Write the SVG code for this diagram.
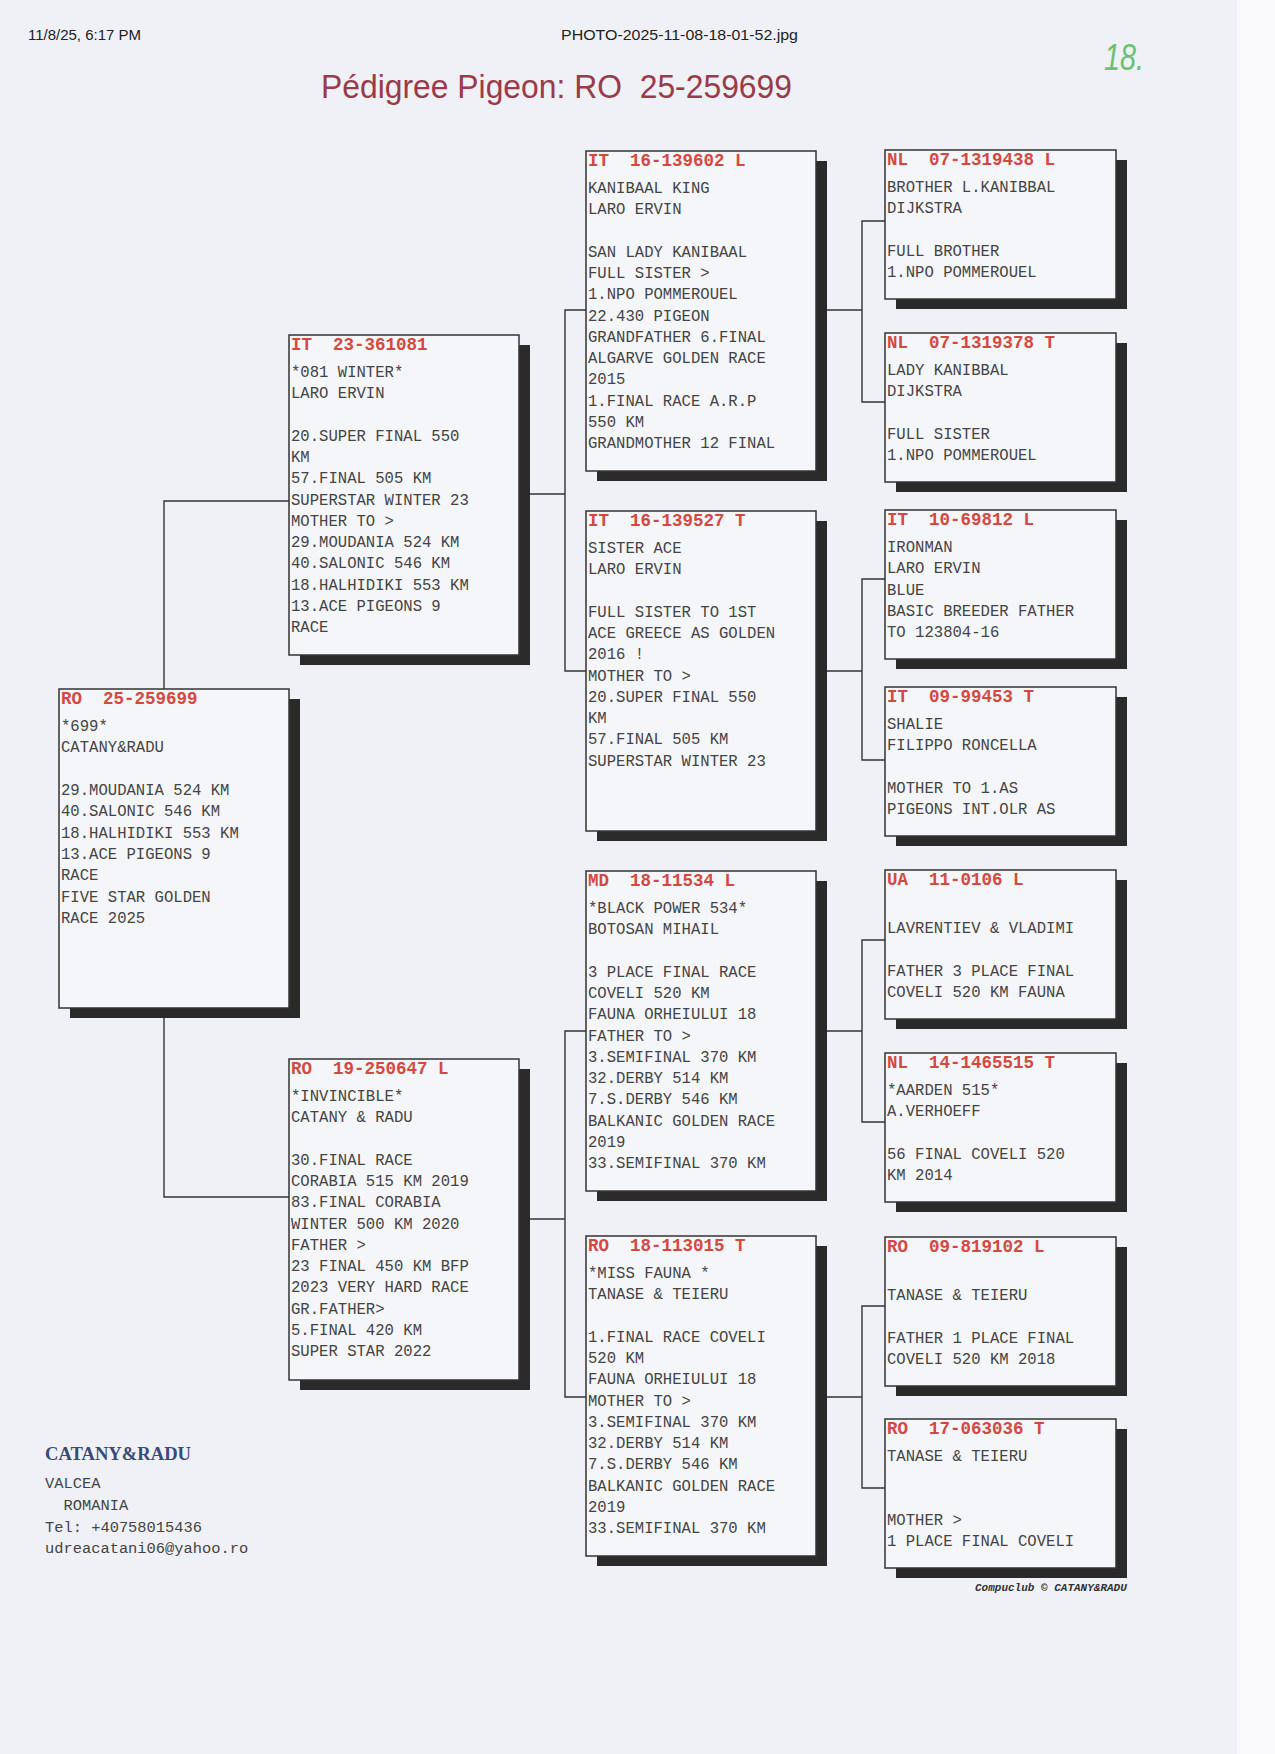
<svg xmlns="http://www.w3.org/2000/svg" width="1275" height="1754" viewBox="0 0 1275 1754" xml:space="preserve">
<style>
.box{fill:#f5f6fa;stroke:#333;stroke-width:1.5}
.shd{fill:#2a2a2a}
.hd{font-family:"Liberation Mono",monospace;font-size:17.5px;font-weight:bold;fill:#d4493f;white-space:pre}
.tx{font-family:"Liberation Mono",monospace;font-size:15.6px;fill:#444;white-space:pre}
.ln{stroke:#333;stroke-width:1.4;fill:none}
.top{font-family:"Liberation Sans",Arial,sans-serif;font-size:14px;fill:#222}
.ft{font-family:"Liberation Mono",monospace;font-size:15.4px;fill:#444;white-space:pre}
</style>
<rect x="0" y="0" width="1275" height="1754" fill="#eff1f7"/>
<rect x="1237" y="0" width="38" height="1754" fill="#f9f9fb"/>
<text class="top" x="28" y="40" textLength="113" lengthAdjust="spacingAndGlyphs">11/8/25, 6:17 PM</text>
<text class="top" x="561" y="40" textLength="237" lengthAdjust="spacingAndGlyphs">PHOTO-2025-11-08-18-01-52.jpg</text>
<text x="1104" y="70" font-family="Liberation Sans,sans-serif" font-size="36" font-style="italic" fill="#6cc070" textLength="40" lengthAdjust="spacingAndGlyphs">18.</text>
<text x="321" y="98" font-family="Liberation Sans,Arial,sans-serif" font-size="34" fill="#9b3a4a" textLength="471" lengthAdjust="spacingAndGlyphs" style="white-space:pre">Pédigree Pigeon: RO  25-259699</text>

<g id="connectors">
<path class="ln" d="M289,501 H164 V1197 H289"/>
<path class="ln" d="M519,494 H565 M586,310 H565 V671 H586"/>
<path class="ln" d="M519,1219 H565 M586,1031 H565 V1397 H586"/>
<path class="ln" d="M816,310 H862 M885,221 H862 V402 H885"/>
<path class="ln" d="M816,671 H862 M885,579 H862 V760 H885"/>
<path class="ln" d="M816,1031 H862 M885,940 H862 V1122 H885"/>
<path class="ln" d="M816,1397 H862 M885,1306 H862 V1488 H885"/>
</g>

<g id="subject">
<rect class="shd" x="70" y="699" width="230" height="319"/>
<rect class="box" x="59" y="689" width="230" height="319"/>
<text class="hd" x="61" y="704">RO  25-259699</text>
<text class="tx"><tspan x="61" y="731">*699*</tspan><tspan x="61" y="752">CATANY&amp;RADU</tspan><tspan x="61" y="795">29.MOUDANIA 524 KM</tspan><tspan x="61" y="816">40.SALONIC 546 KM</tspan><tspan x="61" y="838">18.HALHIDIKI 553 KM</tspan><tspan x="61" y="859">13.ACE PIGEONS 9</tspan><tspan x="61" y="880">RACE</tspan><tspan x="61" y="902">FIVE STAR GOLDEN</tspan><tspan x="61" y="923">RACE 2025</tspan></text>
</g>

<g id="sire">
<rect class="shd" x="300" y="345" width="230" height="320"/>
<rect class="box" x="289" y="335" width="230" height="320"/>
<text class="hd" x="291" y="350">IT  23-361081</text>
<text class="tx"><tspan x="291" y="377">*081 WINTER*</tspan><tspan x="291" y="398">LARO ERVIN</tspan><tspan x="291" y="441">20.SUPER FINAL 550</tspan><tspan x="291" y="462">KM</tspan><tspan x="291" y="483">57.FINAL 505 KM</tspan><tspan x="291" y="505">SUPERSTAR WINTER 23</tspan><tspan x="291" y="526">MOTHER TO &gt;</tspan><tspan x="291" y="547">29.MOUDANIA 524 KM</tspan><tspan x="291" y="568">40.SALONIC 546 KM</tspan><tspan x="291" y="590">18.HALHIDIKI 553 KM</tspan><tspan x="291" y="611">13.ACE PIGEONS 9</tspan><tspan x="291" y="632">RACE</tspan></text>
</g>

<g id="dam">
<rect class="shd" x="300" y="1069" width="230" height="321"/>
<rect class="box" x="289" y="1059" width="230" height="321"/>
<text class="hd" x="291" y="1074">RO  19-250647 L</text>
<text class="tx"><tspan x="291" y="1101">*INVINCIBLE*</tspan><tspan x="291" y="1122">CATANY &amp; RADU</tspan><tspan x="291" y="1165">30.FINAL RACE</tspan><tspan x="291" y="1186">CORABIA 515 KM 2019</tspan><tspan x="291" y="1207">83.FINAL CORABIA</tspan><tspan x="291" y="1229">WINTER 500 KM 2020</tspan><tspan x="291" y="1250">FATHER &gt;</tspan><tspan x="291" y="1271">23 FINAL 450 KM BFP</tspan><tspan x="291" y="1292">2023 VERY HARD RACE</tspan><tspan x="291" y="1314">GR.FATHER&gt;</tspan><tspan x="291" y="1335">5.FINAL 420 KM</tspan><tspan x="291" y="1356">SUPER STAR 2022</tspan></text>
</g>

<g id="ss">
<rect class="shd" x="597" y="161" width="230" height="320"/>
<rect class="box" x="586" y="151" width="230" height="320"/>
<text class="hd" x="588" y="166">IT  16-139602 L</text>
<text class="tx"><tspan x="588" y="193">KANIBAAL KING</tspan><tspan x="588" y="214">LARO ERVIN</tspan><tspan x="588" y="257">SAN LADY KANIBAAL</tspan><tspan x="588" y="278">FULL SISTER &gt;</tspan><tspan x="588" y="299">1.NPO POMMEROUEL</tspan><tspan x="588" y="321">22.430 PIGEON</tspan><tspan x="588" y="342">GRANDFATHER 6.FINAL</tspan><tspan x="588" y="363">ALGARVE GOLDEN RACE</tspan><tspan x="588" y="384">2015</tspan><tspan x="588" y="406">1.FINAL RACE A.R.P</tspan><tspan x="588" y="427">550 KM</tspan><tspan x="588" y="448">GRANDMOTHER 12 FINAL</tspan></text>
</g>

<g id="sd">
<rect class="shd" x="597" y="521" width="230" height="320"/>
<rect class="box" x="586" y="511" width="230" height="320"/>
<text class="hd" x="588" y="526">IT  16-139527 T</text>
<text class="tx"><tspan x="588" y="553">SISTER ACE</tspan><tspan x="588" y="574">LARO ERVIN</tspan><tspan x="588" y="617">FULL SISTER TO 1ST</tspan><tspan x="588" y="638">ACE GREECE AS GOLDEN</tspan><tspan x="588" y="659">2016 !</tspan><tspan x="588" y="681">MOTHER TO &gt;</tspan><tspan x="588" y="702">20.SUPER FINAL 550</tspan><tspan x="588" y="723">KM</tspan><tspan x="588" y="744">57.FINAL 505 KM</tspan><tspan x="588" y="766">SUPERSTAR WINTER 23</tspan></text>
</g>

<g id="ds">
<rect class="shd" x="597" y="881" width="230" height="320"/>
<rect class="box" x="586" y="871" width="230" height="320"/>
<text class="hd" x="588" y="886">MD  18-11534 L</text>
<text class="tx"><tspan x="588" y="913">*BLACK POWER 534*</tspan><tspan x="588" y="934">BOTOSAN MIHAIL</tspan><tspan x="588" y="977">3 PLACE FINAL RACE</tspan><tspan x="588" y="998">COVELI 520 KM</tspan><tspan x="588" y="1019">FAUNA ORHEIULUI 18</tspan><tspan x="588" y="1041">FATHER TO &gt;</tspan><tspan x="588" y="1062">3.SEMIFINAL 370 KM</tspan><tspan x="588" y="1083">32.DERBY 514 KM</tspan><tspan x="588" y="1104">7.S.DERBY 546 KM</tspan><tspan x="588" y="1126">BALKANIC GOLDEN RACE</tspan><tspan x="588" y="1147">2019</tspan><tspan x="588" y="1168">33.SEMIFINAL 370 KM</tspan></text>
</g>

<g id="dd">
<rect class="shd" x="597" y="1246" width="230" height="320"/>
<rect class="box" x="586" y="1236" width="230" height="320"/>
<text class="hd" x="588" y="1251">RO  18-113015 T</text>
<text class="tx"><tspan x="588" y="1278">*MISS FAUNA *</tspan><tspan x="588" y="1299">TANASE &amp; TEIERU</tspan><tspan x="588" y="1342">1.FINAL RACE COVELI</tspan><tspan x="588" y="1363">520 KM</tspan><tspan x="588" y="1384">FAUNA ORHEIULUI 18</tspan><tspan x="588" y="1406">MOTHER TO &gt;</tspan><tspan x="588" y="1427">3.SEMIFINAL 370 KM</tspan><tspan x="588" y="1448">32.DERBY 514 KM</tspan><tspan x="588" y="1469">7.S.DERBY 546 KM</tspan><tspan x="588" y="1491">BALKANIC GOLDEN RACE</tspan><tspan x="588" y="1512">2019</tspan><tspan x="588" y="1533">33.SEMIFINAL 370 KM</tspan></text>
</g>

<g id="sss">
<rect class="shd" x="896" y="160" width="231" height="149"/>
<rect class="box" x="885" y="150" width="231" height="149"/>
<text class="hd" x="887" y="165">NL  07-1319438 L</text>
<text class="tx"><tspan x="887" y="192">BROTHER L.KANIBBAL</tspan><tspan x="887" y="213">DIJKSTRA</tspan><tspan x="887" y="256">FULL BROTHER</tspan><tspan x="887" y="277">1.NPO POMMEROUEL</tspan></text>
</g>

<g id="ssd">
<rect class="shd" x="896" y="343" width="231" height="149"/>
<rect class="box" x="885" y="333" width="231" height="149"/>
<text class="hd" x="887" y="348">NL  07-1319378 T</text>
<text class="tx"><tspan x="887" y="375">LADY KANIBBAL</tspan><tspan x="887" y="396">DIJKSTRA</tspan><tspan x="887" y="439">FULL SISTER</tspan><tspan x="887" y="460">1.NPO POMMEROUEL</tspan></text>
</g>

<g id="sds">
<rect class="shd" x="896" y="520" width="231" height="149"/>
<rect class="box" x="885" y="510" width="231" height="149"/>
<text class="hd" x="887" y="525">IT  10-69812 L</text>
<text class="tx"><tspan x="887" y="552">IRONMAN</tspan><tspan x="887" y="573">LARO ERVIN</tspan><tspan x="887" y="595">BLUE</tspan><tspan x="887" y="616">BASIC BREEDER FATHER</tspan><tspan x="887" y="637">TO 123804-16</tspan></text>
</g>

<g id="sdd">
<rect class="shd" x="896" y="697" width="231" height="149"/>
<rect class="box" x="885" y="687" width="231" height="149"/>
<text class="hd" x="887" y="702">IT  09-99453 T</text>
<text class="tx"><tspan x="887" y="729">SHALIE</tspan><tspan x="887" y="750">FILIPPO RONCELLA</tspan><tspan x="887" y="793">MOTHER TO 1.AS</tspan><tspan x="887" y="814">PIGEONS INT.OLR AS</tspan></text>
</g>

<g id="dss">
<rect class="shd" x="896" y="880" width="231" height="149"/>
<rect class="box" x="885" y="870" width="231" height="149"/>
<text class="hd" x="887" y="885">UA  11-0106 L</text>
<text class="tx"><tspan x="887" y="933">LAVRENTIEV &amp; VLADIMI</tspan><tspan x="887" y="976">FATHER 3 PLACE FINAL</tspan><tspan x="887" y="997">COVELI 520 KM FAUNA</tspan></text>
</g>

<g id="dsd">
<rect class="shd" x="896" y="1063" width="231" height="149"/>
<rect class="box" x="885" y="1053" width="231" height="149"/>
<text class="hd" x="887" y="1068">NL  14-1465515 T</text>
<text class="tx"><tspan x="887" y="1095">*AARDEN 515*</tspan><tspan x="887" y="1116">A.VERHOEFF</tspan><tspan x="887" y="1159">56 FINAL COVELI 520</tspan><tspan x="887" y="1180">KM 2014</tspan></text>
</g>

<g id="dds">
<rect class="shd" x="896" y="1247" width="231" height="149"/>
<rect class="box" x="885" y="1237" width="231" height="149"/>
<text class="hd" x="887" y="1252">RO  09-819102 L</text>
<text class="tx"><tspan x="887" y="1300">TANASE &amp; TEIERU</tspan><tspan x="887" y="1343">FATHER 1 PLACE FINAL</tspan><tspan x="887" y="1364">COVELI 520 KM 2018</tspan></text>
</g>

<g id="ddd">
<rect class="shd" x="896" y="1429" width="231" height="149"/>
<rect class="box" x="885" y="1419" width="231" height="149"/>
<text class="hd" x="887" y="1434">RO  17-063036 T</text>
<text class="tx"><tspan x="887" y="1461">TANASE &amp; TEIERU</tspan><tspan x="887" y="1525">MOTHER &gt;</tspan><tspan x="887" y="1546">1 PLACE FINAL COVELI</tspan></text>
</g>

<g id="footer">
<text x="45" y="1460" font-family="Liberation Serif,serif" font-size="18" font-weight="bold" fill="#3a4a7a" textLength="146" lengthAdjust="spacingAndGlyphs">CATANY&amp;RADU</text>
<text class="ft" x="45" y="1488">VALCEA</text>
<text class="ft" x="45" y="1510">  ROMANIA</text>
<text class="ft" x="45" y="1532">Tel: +40758015436</text>
<text class="ft" x="45" y="1553">udreacatani06@yahoo.ro</text>
<text x="975" y="1591" font-family="Liberation Mono,monospace" font-size="11" font-weight="bold" font-style="italic" fill="#333" style="white-space:pre">Compuclub © CATANY&amp;RADU</text>
</g>
</svg>
